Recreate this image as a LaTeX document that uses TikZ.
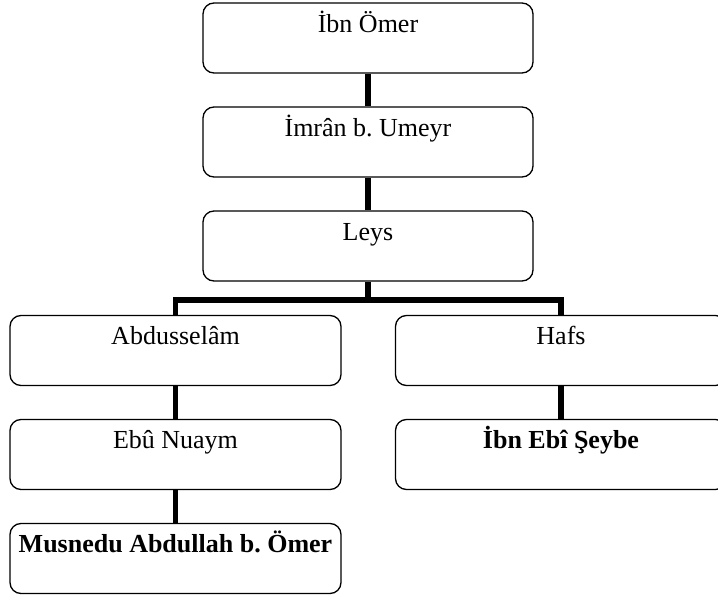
\documentclass[tikz,border=0pt]{standalone}
\usepackage{fontspec}
\setmainfont{Liberation Serif}
\frenchspacing
\begin{document}
\begin{tikzpicture}[x=1pt,y=-1pt,
  box/.style={draw, line width=1.3pt, rounded corners=11pt,
              minimum width=331pt, minimum height=70pt, inner sep=0pt},
  txt/.style={anchor=base, inner sep=0pt, font=\fontsize{26}{30}\selectfont},
  btxt/.style={txt, font=\fontsize{26}{30}\selectfont\bfseries},
  link/.style={line width=5.5pt}]
\useasboundingbox (0,0) rectangle (718,596);
\clip (0,0) rectangle (718,596);
% boxes
\node[box, minimum width=330pt] (ibnomer) at (368,38) {};
\node[box, minimum width=330pt] (imran)   at (368,142) {};
\node[box, minimum width=330pt] (leys)    at (368,246) {};
\node[box] (abdusselam) at (175.5,350.5) {};
\node[box] (hafs)       at (561,350.5) {};
\node[box] (ebunuaym)   at (175.5,454.5) {};
\node[box] (ibnebi)     at (561,454.5) {};
\node[box] (musned)     at (175.5,558.5) {};
% labels near the top of each box
\node[txt]  (ibnomer-t)    at ([yshift=-30pt]ibnomer.north)    {İbn Ömer};
\node[txt]  (imran-t)      at ([yshift=-30pt]imran.north)      {İmrân b. Umeyr};
\node[txt]  (leys-t)       at ([yshift=-30pt]leys.north)       {Leys};
\node[txt]  (abdusselam-t) at ([yshift=-30pt]abdusselam.north) {Abdusselâm};
\node[txt]  (hafs-t)       at ([yshift=-30pt]hafs.north)       {Hafs};
\node[txt]  (ebunuaym-t)   at ([yshift=-30pt]ebunuaym.north)   {Ebû Nuaym};
\node[btxt] (ibnebi-t)     at ([yshift=-30pt]ibnebi.north)     {İbn Ebî Şeybe};
\node[btxt] (musned-t)     at ([yshift=-30pt]musned.north)     {Musnedu Abdullah b. Ömer};
% connectors
\draw[link] (ibnomer.south) -- (imran.north);
\draw[link] (imran.south) -- (leys.north);
\coordinate (fork) at (368,300);
\draw[link] (leys.south) -- (fork);
\draw[link] (abdusselam.north) |- (fork) -| (hafs.north);
\draw[link] (abdusselam.south) -- (ebunuaym.north);
\draw[link] (ebunuaym.south) -- (musned.north);
\draw[link] (hafs.south) -- (ibnebi.north);
\end{tikzpicture}
\end{document}
